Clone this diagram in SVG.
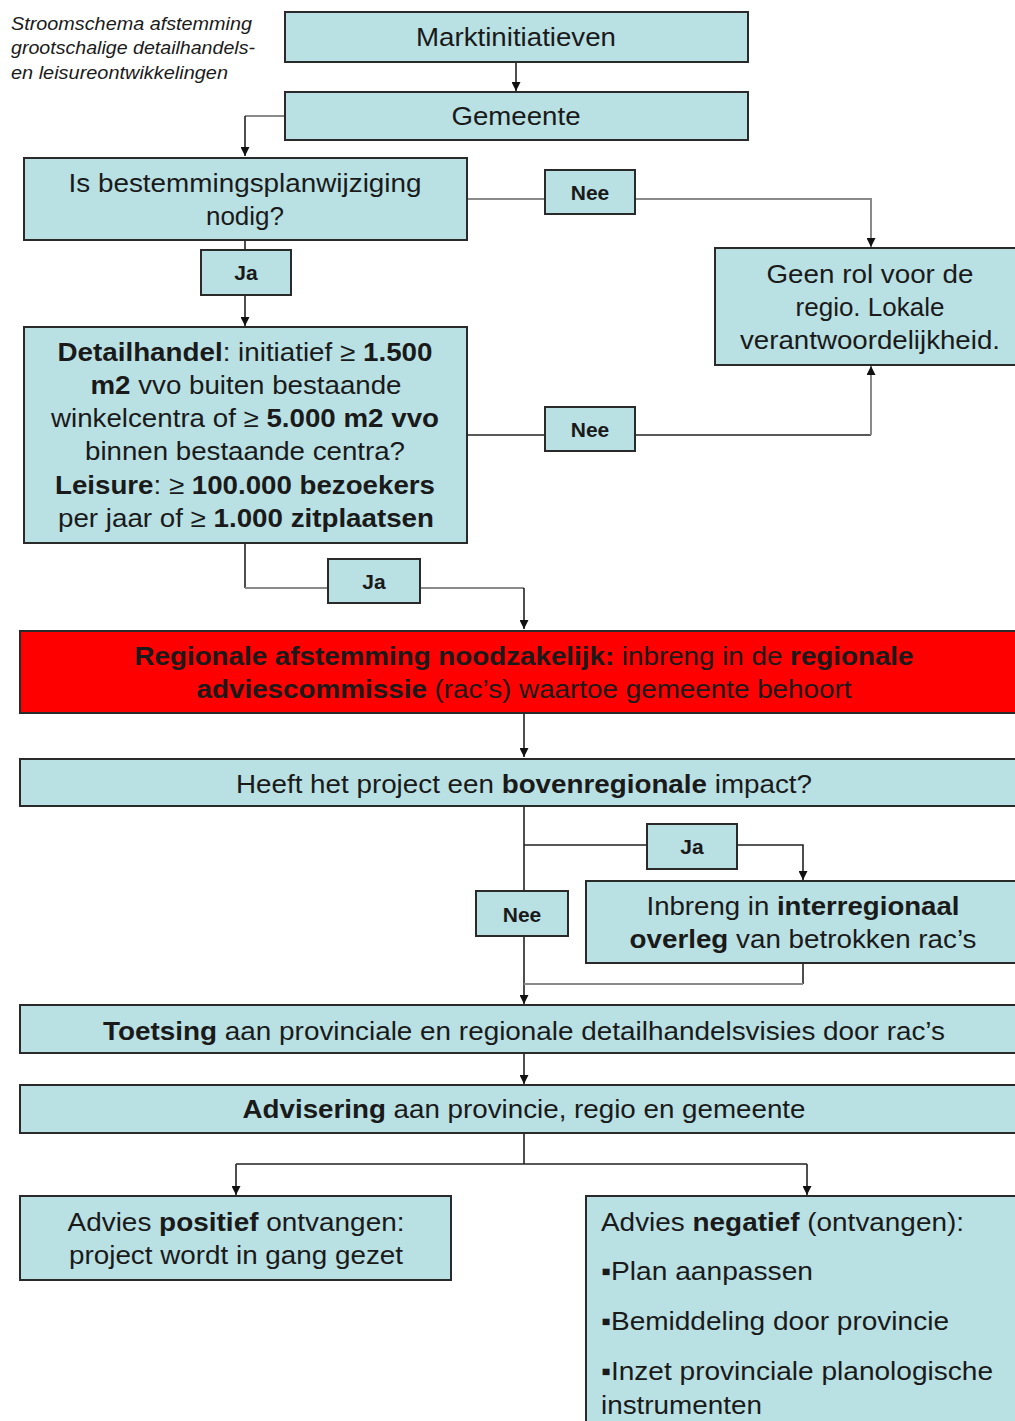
<svg xmlns="http://www.w3.org/2000/svg" width="1015" height="1421" viewBox="0 0 1015 1421">
<style>
.box{fill:#b9e0e3;stroke:#2a2a2a;stroke-width:2}
.red{fill:#ff0000;stroke:#2a2a2a;stroke-width:2}
.t{font-family:"Liberation Sans",Arial,sans-serif;font-size:26px;fill:#1a1a1a;text-anchor:middle}
.tl{font-family:"Liberation Sans",Arial,sans-serif;font-size:26px;fill:#1a1a1a;text-anchor:start}
.lab{font-family:"Liberation Sans",Arial,sans-serif;font-size:21px;font-weight:bold;fill:#1a1a1a;text-anchor:middle}
.title{font-family:"Liberation Sans",Arial,sans-serif;font-size:18px;font-style:italic;fill:#1a1a1a}
.b{font-weight:bold}
.c{fill:none;stroke:#222;stroke-width:1.6}
.g{fill:none;stroke:#8a8a8a;stroke-width:2}
</style>
<defs>
<marker id="ah" viewBox="0 0 10 10" refX="10" refY="5" markerWidth="9" markerHeight="9" markerUnits="userSpaceOnUse" orient="auto">
<path d="M0,0 L10,5 L0,10 z" fill="#111"/>
</marker>
</defs>

<g id="title">
<text class="title" x="11" y="30" textLength="241" lengthAdjust="spacingAndGlyphs">Stroomschema afstemming</text>
<text class="title" x="11" y="54" textLength="244" lengthAdjust="spacingAndGlyphs">grootschalige detailhandels-</text>
<text class="title" x="11" y="79" textLength="217" lengthAdjust="spacingAndGlyphs">en leisureontwikkelingen</text>
</g>

<g id="connectors">
<path class="c" d="M516,62 V91" marker-end="url(#ah)"/>
<path class="g" d="M284,116 H245"/>
<path class="c" d="M245,116 V156" marker-end="url(#ah)"/>
<path class="c" d="M245,240 V326" marker-end="url(#ah)"/>
<path class="g" d="M467,199 H871 V247" marker-end="url(#ah)"/>
<path class="c" d="M467,435 H871"/>
<path class="g" d="M871,435 V366" marker-end="url(#ah)"/>
<path class="c" d="M245,543 V588"/>
<path class="g" d="M245,588 H524"/>
<path class="c" d="M524,588 V629" marker-end="url(#ah)"/>
<path class="c" d="M524,713 V757" marker-end="url(#ah)"/>
<path class="c" d="M524,806 V1004" marker-end="url(#ah)"/>
<path class="c" d="M524,845 H803 V880" marker-end="url(#ah)"/>
<path class="c" d="M803,963 V984"/>
<path class="g" d="M803,984 H524"/>
<path class="c" d="M524,1053 V1084" marker-end="url(#ah)"/>
<path class="c" d="M524,1133 V1164 M236,1164 H807"/>
<path class="c" d="M236,1164 V1195" marker-end="url(#ah)"/>
<path class="c" d="M807,1164 V1195" marker-end="url(#ah)"/>
</g>

<g id="marktinitiatieven">
<rect class="box" x="285" y="12" width="463" height="50"/>
<text class="t" x="516" y="46" textLength="200" lengthAdjust="spacingAndGlyphs">Marktinitiatieven</text>
</g>

<g id="gemeente">
<rect class="box" x="285" y="92" width="463" height="48"/>
<text class="t" x="516" y="125" textLength="129" lengthAdjust="spacingAndGlyphs">Gemeente</text>
</g>

<g id="bestemmingsplan">
<rect class="box" x="24" y="158" width="443" height="82"/>
<text class="t" x="245" y="192" textLength="353" lengthAdjust="spacingAndGlyphs">Is bestemmingsplanwijziging</text>
<text class="t" x="245" y="225">nodig?</text>
</g>

<g id="ja1">
<rect class="box" x="201" y="250" width="90" height="45"/>
<text class="lab" x="246" y="280">Ja</text>
</g>

<g id="nee1">
<rect class="box" x="545" y="170" width="90" height="44"/>
<text class="lab" x="590" y="200">Nee</text>
</g>

<g id="geenrol">
<rect class="box" x="715" y="248" width="310" height="117"/>
<text class="t" x="870" y="283" textLength="207" lengthAdjust="spacingAndGlyphs">Geen rol voor de</text>
<text class="t" x="870" y="316">regio. Lokale</text>
<text class="t" x="870" y="349" textLength="260" lengthAdjust="spacingAndGlyphs">verantwoordelijkheid.</text>
</g>

<g id="detailhandel">
<rect class="box" x="24" y="327" width="443" height="216"/>
<text class="t" x="245" y="361" textLength="375" lengthAdjust="spacingAndGlyphs"><tspan class="b">Detailhandel</tspan>: initiatief ≥ <tspan class="b">1.500</tspan></text>
<text class="t" x="246" y="394" textLength="311" lengthAdjust="spacingAndGlyphs"><tspan class="b">m2</tspan> vvo buiten bestaande</text>
<text class="t" x="245" y="427" textLength="388" lengthAdjust="spacingAndGlyphs">winkelcentra of ≥ <tspan class="b">5.000 m2 vvo</tspan></text>
<text class="t" x="245" y="460" textLength="320" lengthAdjust="spacingAndGlyphs">binnen bestaande centra?</text>
<text class="t" x="245" y="494" textLength="380" lengthAdjust="spacingAndGlyphs"><tspan class="b">Leisure</tspan>: ≥ <tspan class="b">100.000 bezoekers</tspan></text>
<text class="t" x="246" y="527" textLength="376" lengthAdjust="spacingAndGlyphs">per jaar of ≥ <tspan class="b">1.000 zitplaatsen</tspan></text>
</g>

<g id="nee2">
<rect class="box" x="545" y="407" width="90" height="44"/>
<text class="lab" x="590" y="437">Nee</text>
</g>

<g id="ja2">
<rect class="box" x="328" y="559" width="92" height="44"/>
<text class="lab" x="374" y="589">Ja</text>
</g>

<g id="regionaal">
<rect class="red" x="20" y="631" width="1005" height="82"/>
<text class="t" x="524" y="665" textLength="779" lengthAdjust="spacingAndGlyphs"><tspan class="b">Regionale afstemming noodzakelijk:</tspan> inbreng in de <tspan class="b">regionale</tspan></text>
<text class="t" x="524" y="698" textLength="655" lengthAdjust="spacingAndGlyphs"><tspan class="b">adviescommissie</tspan> (rac’s) waartoe gemeente behoort</text>
</g>

<g id="bovenregionaal">
<rect class="box" x="20" y="759" width="1005" height="47"/>
<text class="t" x="524" y="793" textLength="576" lengthAdjust="spacingAndGlyphs">Heeft het project een <tspan class="b">bovenregionale</tspan> impact?</text>
</g>

<g id="ja3">
<rect class="box" x="647" y="824" width="90" height="45"/>
<text class="lab" x="692" y="854">Ja</text>
</g>

<g id="nee3">
<rect class="box" x="476" y="891" width="92" height="45"/>
<text class="lab" x="522" y="922">Nee</text>
</g>

<g id="interregionaal">
<rect class="box" x="586" y="881" width="439" height="82"/>
<text class="t" x="803" y="915" textLength="313" lengthAdjust="spacingAndGlyphs">Inbreng in <tspan class="b">interregionaal</tspan></text>
<text class="t" x="803" y="948" textLength="347" lengthAdjust="spacingAndGlyphs"><tspan class="b">overleg</tspan> van betrokken rac’s</text>
</g>

<g id="toetsing">
<rect class="box" x="20" y="1005" width="1005" height="48"/>
<text class="t" x="524" y="1040" textLength="842" lengthAdjust="spacingAndGlyphs"><tspan class="b">Toetsing</tspan> aan provinciale en regionale detailhandelsvisies door rac’s</text>
</g>

<g id="advisering">
<rect class="box" x="20" y="1085" width="1005" height="48"/>
<text class="t" x="524" y="1118" textLength="563" lengthAdjust="spacingAndGlyphs"><tspan class="b">Advisering</tspan> aan provincie, regio en gemeente</text>
</g>

<g id="positief">
<rect class="box" x="20" y="1196" width="431" height="84"/>
<text class="t" x="236" y="1231" textLength="337" lengthAdjust="spacingAndGlyphs">Advies <tspan class="b">positief</tspan> ontvangen:</text>
<text class="t" x="236" y="1264" textLength="334" lengthAdjust="spacingAndGlyphs">project wordt in gang gezet</text>
</g>

<g id="negatief">
<rect class="box" x="586" y="1196" width="439" height="235"/>
<text class="tl" x="601" y="1231" textLength="363" lengthAdjust="spacingAndGlyphs">Advies <tspan class="b">negatief</tspan> (ontvangen):</text>
<text class="tl" x="601" y="1280" textLength="212" lengthAdjust="spacingAndGlyphs">▪Plan aanpassen</text>
<text class="tl" x="601" y="1330" textLength="348" lengthAdjust="spacingAndGlyphs">▪Bemiddeling door provincie</text>
<text class="tl" x="601" y="1380" textLength="392" lengthAdjust="spacingAndGlyphs">▪Inzet provinciale planologische</text>
<text class="tl" x="601" y="1414" textLength="161" lengthAdjust="spacingAndGlyphs">instrumenten</text>
</g>
</svg>
